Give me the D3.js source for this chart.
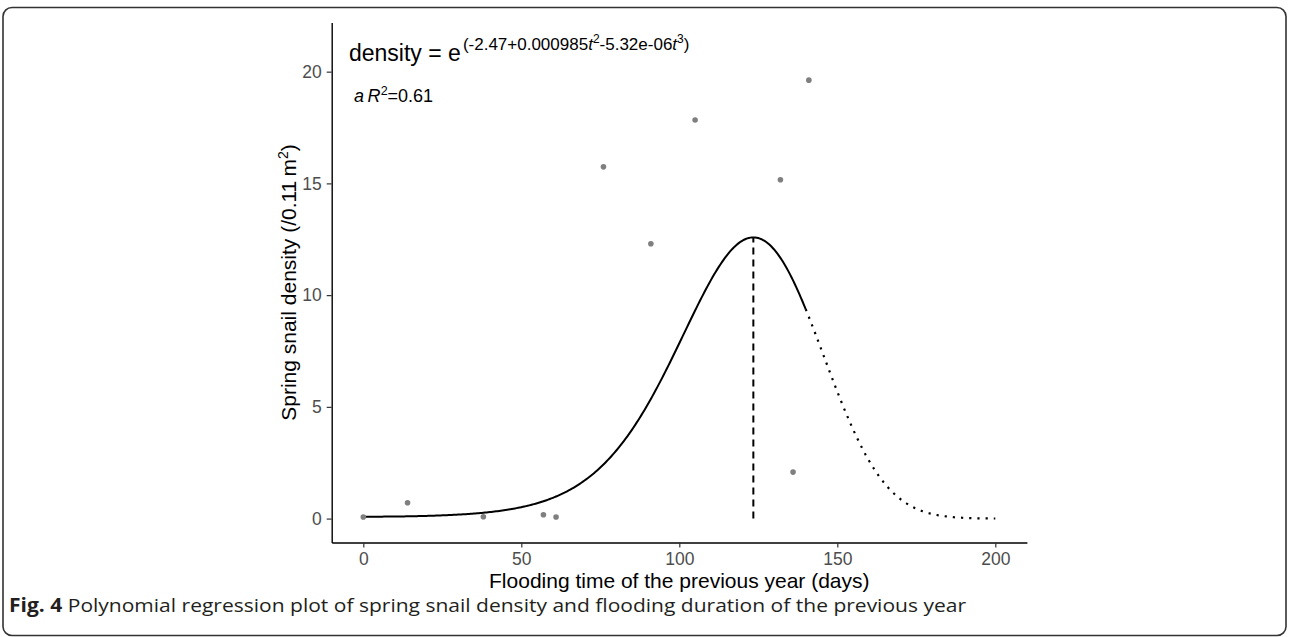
<!DOCTYPE html>
<html>
<head>
<meta charset="utf-8">
<script src="https://cdn.jsdelivr.net/npm/d3@7"></script>
<style>
  html, body { margin: 0; padding: 0; background: #fff; }
  svg { display: block; }
</style>
</head>
<body>
<svg id="chart" width="1289" height="637"></svg>
<script>
// ---- data ----
const floodDays    = [0, 14, 38, 57, 61, 76, 91, 105, 132, 136, 141];
const snailDensity = [0.07, 0.71, 0.08, 0.17, 0.07, 15.74, 12.30, 17.84, 15.16, 2.08, 19.62];
// fitted model shown in the chart: density = exp(b0 + b2 t^2 + b3 t^3)
const modelCoefs   = [-2.47, 0.000985, -5.32e-06];
const solidRange   = [0, 140];
const dottedRange  = [140, 200];
const xTicks = [0, 50, 100, 150, 200];
const yTicks = [0, 5, 10, 15, 20];
const xDomain = [-10, 210];
const yDomain = [-1.07, 22.2];

const svg = d3.select("#chart");
const FONT = "'Liberation Sans', Arial, sans-serif";

// frame
svg.append("rect").attr("x", 3).attr("y", 7.5).attr("width", 1283).attr("height", 628)
  .attr("rx", 9).attr("fill", "none").attr("stroke", "#333").attr("stroke-width", 1.6);

const x = d3.scaleLinear().domain(xDomain).range([331.7, 1026.9]);
const y = d3.scaleLinear().domain(yDomain).range([542.5, 22.5]);

const fit = t => Math.exp(modelCoefs[0] + modelCoefs[1] * t * t + modelCoefs[2] * t * t * t);
const peakT = -2 * modelCoefs[1] / (3 * modelCoefs[2]);

// axes
const xAxis = d3.axisBottom(x).tickValues(xTicks).tickSize(5).tickPadding(5).tickSizeOuter(0);
const yAxis = d3.axisLeft(y).tickValues(yTicks).tickSize(5).tickPadding(5).tickSizeOuter(0);

const gx = svg.append("g").attr("transform", `translate(0,${y.range()[0]})`).call(xAxis);
const gy = svg.append("g").attr("transform", `translate(${x.range()[0]},0)`).call(yAxis);
[gx, gy].forEach(g => {
  g.select(".domain").attr("stroke", "#000").attr("stroke-width", 1.4);
  g.selectAll(".tick line").attr("stroke", "#333").attr("stroke-width", 1.2);
  g.selectAll(".tick text").attr("fill", "#4d4d4d").style("font-family", FONT).style("font-size", "17.5px");
});

// curve
const line = d3.line().x(d => x(d)).y(d => y(fit(d)));
const steps = (a, b) => d3.range(a, b + 0.0001, 0.5);
svg.append("path").attr("d", line(steps(solidRange[0], solidRange[1])))
  .attr("fill", "none").attr("stroke", "#000").attr("stroke-width", 2);
svg.append("path").attr("d", line(steps(dottedRange[0], dottedRange[1])))
  .attr("fill", "none").attr("stroke", "#000").attr("stroke-width", 2.2)
  .attr("stroke-dasharray", "2.2 6");

// vertical dashed line at peak
svg.append("line").attr("x1", x(peakT)).attr("x2", x(peakT))
  .attr("y1", y(0)).attr("y2", y(fit(peakT)))
  .attr("stroke", "#000").attr("stroke-width", 2).attr("stroke-dasharray", "7 5");

// points
svg.append("g").selectAll("circle").data(floodDays.map((d, i) => [d, snailDensity[i]]))
  .join("circle").attr("cx", d => x(d[0])).attr("cy", d => y(d[1])).attr("r", 2.8)
  .attr("fill", "#7f7f7f");

// axis titles
svg.append("text").attr("x", (x.range()[0] + x.range()[1]) / 2).attr("y", 588)
  .attr("text-anchor", "middle").style("font-family", FONT).style("font-size", "21px")
  .attr("fill", "#000").text("Flooding time of the previous year (days)");

const yt = svg.append("text").attr("transform", `translate(296,${(y.range()[0] + y.range()[1]) / 2}) rotate(-90)`)
  .attr("text-anchor", "middle").style("font-family", FONT).style("font-size", "21px").attr("fill", "#000");
yt.append("tspan").text("Spring snail density (/0.11\u2009m");
yt.append("tspan").attr("dy", -8).style("font-size", "14px").text("2");
yt.append("tspan").attr("dy", 8).text(")");

// equation
const eq = svg.append("text").attr("x", 349).attr("y", 61).style("font-family", FONT)
  .style("font-size", "23px").attr("fill", "#000").text("density = e");
const eqW = eq.node().getComputedTextLength();
const ex = svg.append("text").attr("x", 349 + eqW + 2).attr("y", 50).style("font-family", FONT)
  .style("font-size", "17px").attr("fill", "#000");
ex.append("tspan").text("(-2.47+0.000985");
ex.append("tspan").style("font-style", "italic").text("t");
ex.append("tspan").attr("dy", -7).style("font-size", "12px").text("2");
ex.append("tspan").attr("dy", 7).text("-5.32e-06");
ex.append("tspan").style("font-style", "italic").text("t");
ex.append("tspan").attr("dy", -7).style("font-size", "12px").text("3");
ex.append("tspan").attr("dy", 7).text(")");

const r2 = svg.append("text").attr("x", 354).attr("y", 102).style("font-family", FONT)
  .style("font-size", "18px").attr("fill", "#000");
r2.append("tspan").style("font-style", "italic").text("a\u2009R");
r2.append("tspan").attr("dy", -7).style("font-size", "12.5px").text("2");
r2.append("tspan").attr("dy", 7).text("=0.61");

// caption
const cap = svg.append("text").attr("x", 9).attr("y", 612).style("font-family", "'Open Sans', sans-serif")
  .style("font-size", "19px").attr("fill", "#231f20")
  .attr("textLength", 957).attr("lengthAdjust", "spacingAndGlyphs");
cap.append("tspan").style("font-weight", "bold").text("Fig. 4");
cap.append("tspan").text(" Polynomial regression plot of spring snail density and flooding duration of the previous year");
</script>
</body>
</html>
